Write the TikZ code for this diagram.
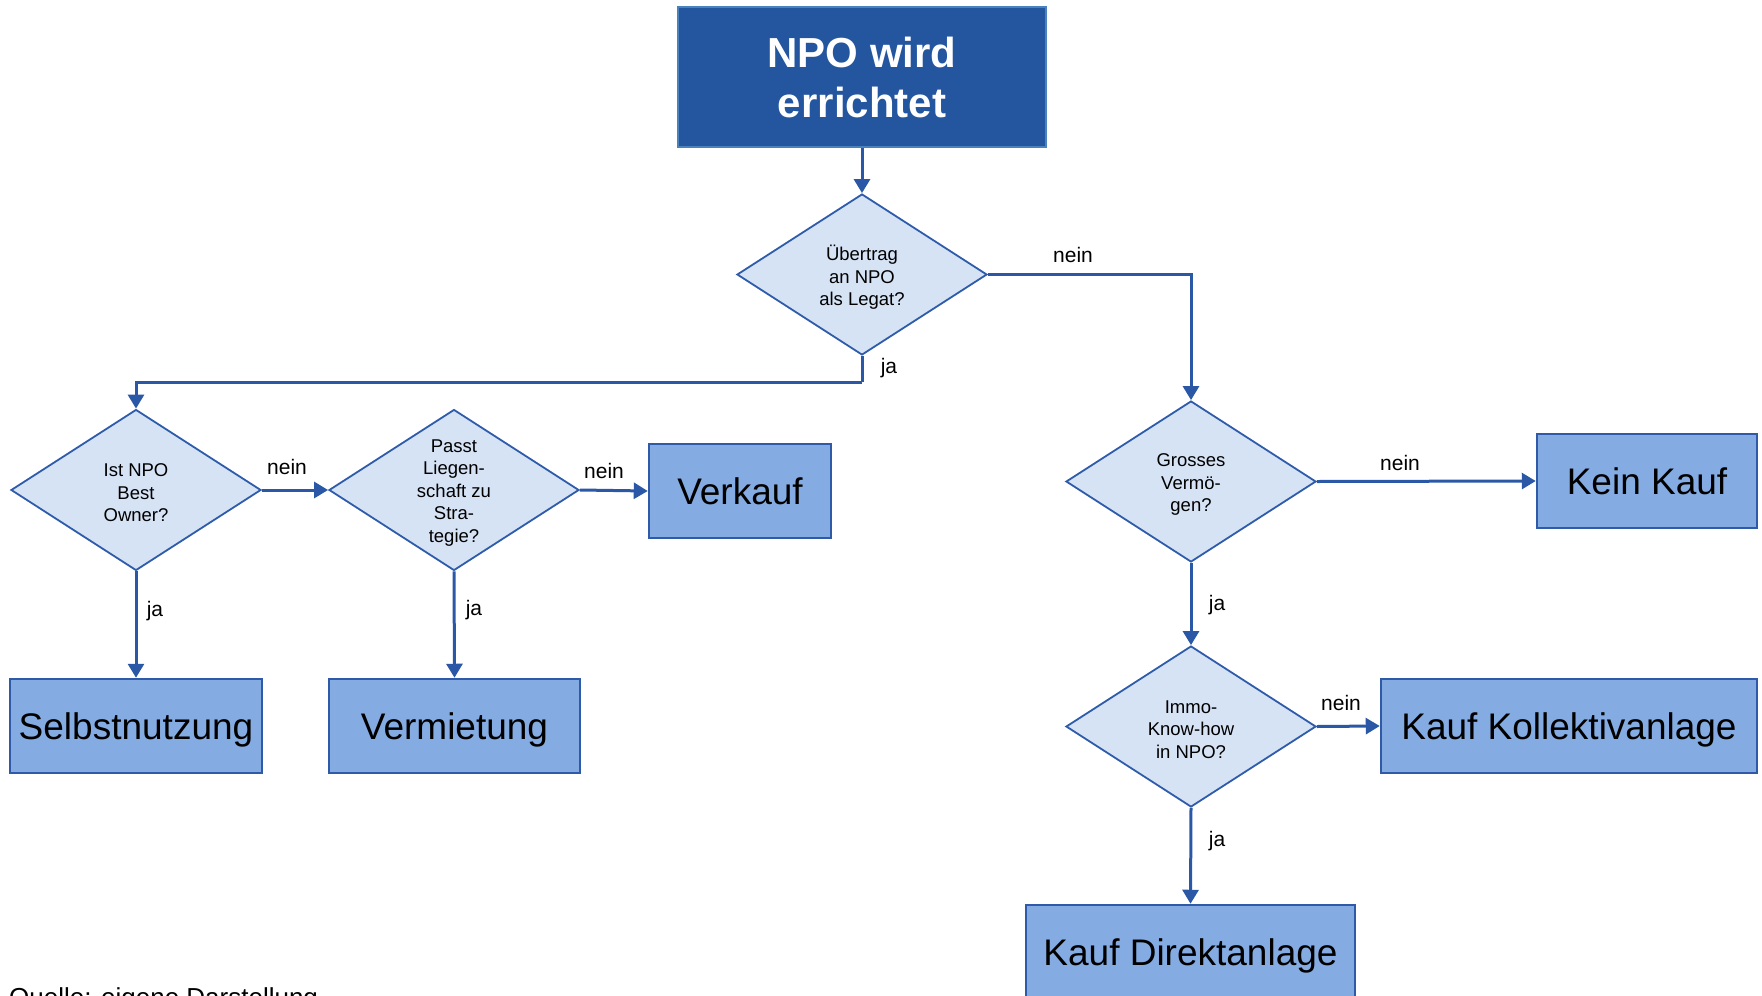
\documentclass[tikz,border=0pt]{standalone}
\usepackage{fontspec}
\setmainfont{Liberation Sans}
\usetikzlibrary{arrows.meta,shapes.geometric}
\definecolor{topfill}{RGB}{36,86,160}
\definecolor{topline}{RGB}{74,130,190}
\definecolor{boxfill}{RGB}{132,172,226}
\definecolor{boxline}{RGB}{46,90,168}
\definecolor{decfill}{RGB}{214,227,245}
\definecolor{decline}{RGB}{46,92,170}
\definecolor{conn}{RGB}{43,88,166}
\tikzset{
  topbox/.style={rectangle, fill=topfill, draw=topline, line width=2.5pt, text=white,
    minimum width=368pt, minimum height=140pt, inner sep=0pt, align=center,
    font=\fontsize{42}{50}\selectfont\bfseries},
  endbox/.style={rectangle, fill=boxfill, draw=boxline, line width=2.5pt,
    minimum height=94pt, inner sep=0pt, text depth=0pt, font=\fontsize{37}{44}\selectfont},
  decision/.style={diamond, fill=decfill, draw=decline, line width=1.8pt,
    minimum width=250pt, minimum height=161pt, inner sep=0pt},
  dectext/.style={inner sep=0pt, align=center, yshift=-3pt,
    font=\fontsize{18.5}{22.5}\selectfont},
  conn/.style={draw=conn, line width=3pt, -{Triangle[length=14pt,width=16pt]}},
  plainconn/.style={draw=conn, line width=3pt},
  lbl/.style={inner sep=0pt, font=\fontsize{21}{25}\selectfont}
}
\begin{document}
\begin{tikzpicture}[x=1pt,y=-1pt]
\useasboundingbox (0,0) rectangle (1762,996);
% nodes
\node[topbox] (top) at (862,77) {NPO wird\\errichtet};
\node[decision] (d1) at (862,274.5) {};
\node[decision] (ist) at (136,490) {};
\node[decision] (passt) at (454,490) {};
\node[decision] (gross) at (1191,481.5) {};
\node[decision] (immo) at (1191,726.5) {};
\node[dectext] (d1t) at (d1.center) {Übertrag\\an NPO\\als Legat?};
\node[dectext] (istt) at (ist.center) {Ist NPO\\Best\\Owner?};
\node[dectext] (passtt) at (passt.center) {Passt\\Liegen-\\schaft zu\\Stra-\\tegie?};
\node[dectext] (grosst) at (gross.center) {Grosses\\Vermö-\\gen?};
\node[dectext] (immot) at (immo.center) {Immo-\\Know-how\\in NPO?};
\node[endbox, minimum width=182pt] (verkauf) at (740,491) {Verkauf};
\node[endbox, minimum width=252pt] (selbst) at (136,726) {Selbstnutzung};
\node[endbox, minimum width=251pt] (verm) at (454.5,726) {Vermietung};
\node[endbox, minimum width=220pt] (kein) at (1647,481) {Kein Kauf};
\node[endbox, minimum width=376pt] (koll) at (1569,726) {Kauf Kollektivanlage};
\node[endbox, minimum width=329pt] (direkt) at (1190.5,952) {Kauf Direktanlage};
\coordinate (jaknick) at (862,382);
% connectors
\draw[conn] (top.south) -- (d1.north);
\draw[conn] (d1.east) -| (gross.north);
\draw[plainconn] (d1.south) -- (jaknick);
\draw[conn] (jaknick) -| (ist.north);
\draw[conn] (ist.east) -- (passt.west);
\draw[conn] (passt.east) -- (verkauf.west);
\draw[conn] (ist.south) -- (selbst.north);
\draw[conn] (passt.south) -- (verm.north);
\draw[conn] (gross.east) -- (kein.west);
\draw[conn] (gross.south) -- (immo.north);
\draw[conn] (immo.east) -- (koll.west);
\draw[conn] (immo.south) -- (direkt.north);
% labels
\node[lbl] (l1) at (1073,255) {nein};
\node[lbl] (l2) at (889,368) {ja};
\node[lbl] (l3) at (287,467) {nein};
\node[lbl] (l4) at (604,471) {nein};
\node[lbl] (l5) at (155,611) {ja};
\node[lbl] (l6) at (474,610) {ja};
\node[lbl] (l7) at (1400,463) {nein};
\node[lbl] (l8) at (1217,605) {ja};
\node[lbl] (l9) at (1341,703) {nein};
\node[lbl] (l10) at (1217,841) {ja};
\node[inner sep=0pt, anchor=base west, font=\fontsize{26}{30}\selectfont] (quelle) at (9,1006) {Quelle: eigene Darstellung};
\end{tikzpicture}
\end{document}
